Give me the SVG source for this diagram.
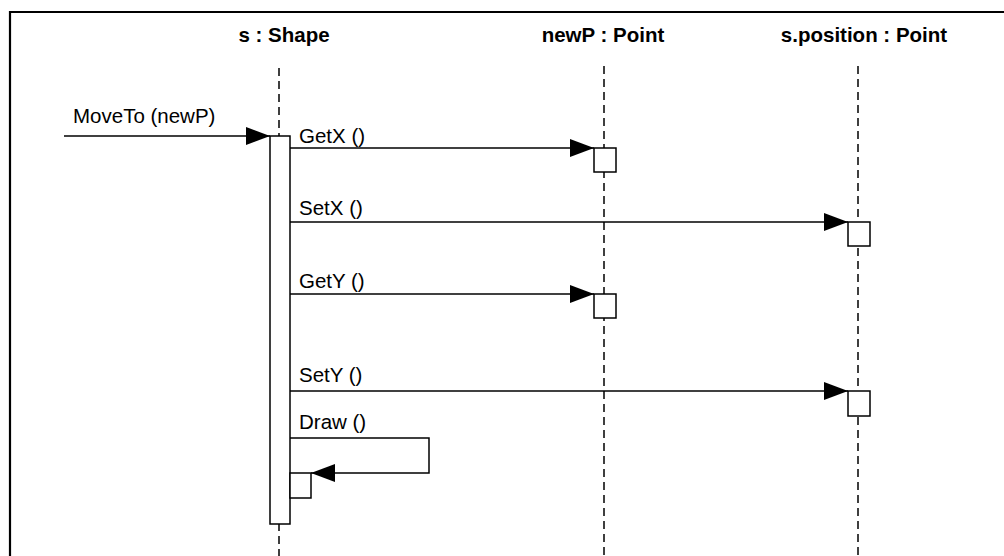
<svg xmlns="http://www.w3.org/2000/svg" width="1004" height="556" viewBox="0 0 1004 556">
  <style>
    .frame { fill: none; stroke: #000; stroke-width: 2.2; }
    .life { stroke: #000; stroke-width: 1.5; stroke-dasharray: 8 5; fill: none; }
    .act { fill: #fff; stroke: #000; stroke-width: 1.5; }
    .msg { fill: none; stroke: #000; stroke-width: 1.5; }
    .head { font-family: "Liberation Sans", Arial, sans-serif; font-weight: bold; font-size: 20.5px; fill: #000; text-anchor: middle; }
    .lbl { font-family: "Liberation Sans", Arial, sans-serif; font-size: 20.5px; fill: #000; }
  </style>
  <defs>
    <marker id="arrow" markerUnits="userSpaceOnUse" markerWidth="24" markerHeight="18" refX="24" refY="9" orient="auto">
      <path d="M0,0 L24,9 L0,18 Z" fill="#000"/>
    </marker>
  </defs>
  <rect width="1004" height="556" fill="#fff"/>

  <!-- sequence frame (open to the right and bottom) -->
  <path class="frame" d="M10,556 V12 H1004"/>

  <!-- lifelines -->
  <g id="shape">
    <text class="head" x="284" y="42">s : Shape</text>
    <line class="life" x1="279" y1="68" x2="279" y2="556"/>
    <rect class="act" x="270" y="136" width="20" height="388"/>
    <rect class="act" x="290" y="473" width="21" height="25"/>
  </g>
  <g id="newP">
    <text class="head" x="603" y="42">newP : Point</text>
    <line class="life" x1="604" y1="66" x2="604" y2="556"/>
    <rect class="act" x="594" y="148" width="22" height="24"/>
    <rect class="act" x="594" y="294" width="22" height="24"/>
  </g>
  <g id="position">
    <text class="head" x="864" y="42">s.position : Point</text>
    <line class="life" x1="858" y1="66" x2="858" y2="556"/>
    <rect class="act" x="848" y="222" width="22" height="24"/>
    <rect class="act" x="848" y="391" width="22" height="25"/>
  </g>

  <!-- messages -->
  <g id="connectors">
    <line class="msg" x1="64" y1="136" x2="270" y2="136" marker-end="url(#arrow)"/>
    <line class="msg" x1="290" y1="148" x2="594" y2="148" marker-end="url(#arrow)"/>
    <line class="msg" x1="290" y1="222" x2="848" y2="222" marker-end="url(#arrow)"/>
    <line class="msg" x1="290" y1="294" x2="594" y2="294" marker-end="url(#arrow)"/>
    <line class="msg" x1="290" y1="391" x2="848" y2="391" marker-end="url(#arrow)"/>
    <polyline class="msg" points="290,438 429,438 429,473 311,473" marker-end="url(#arrow)"/>
  </g>

  <!-- message labels -->
  <g id="labels">
    <text class="lbl" x="73" y="123">MoveTo (newP)</text>
    <text class="lbl" x="299" y="143">GetX ()</text>
    <text class="lbl" x="299" y="215">SetX ()</text>
    <text class="lbl" x="299" y="288">GetY ()</text>
    <text class="lbl" x="299" y="382">SetY ()</text>
    <text class="lbl" x="299" y="429">Draw ()</text>
  </g>
</svg>
